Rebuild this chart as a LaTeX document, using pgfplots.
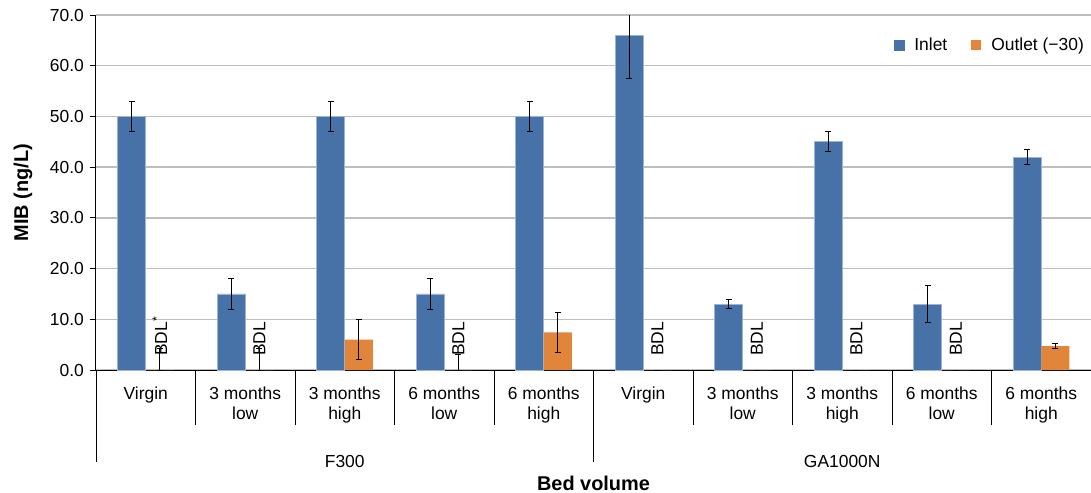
\documentclass[border=0pt]{standalone}
\usepackage{fontspec}
\setmainfont{Liberation Sans}
\usepackage{pgfplots}
\pgfplotsset{compat=1.18}
\definecolor{inlet}{HTML}{4672A8}
\definecolor{inletedge}{HTML}{9DB4D6}
\definecolor{outlet}{HTML}{E0853A}
\definecolor{gridc}{HTML}{BEBEBE}
\newcommand\lf{\fontsize{17.5}{19.5}\selectfont}
\newcommand\blf{\fontsize{20}{24}\selectfont\bfseries}
\tikzset{bdl/.style={rotate=90, anchor=west, inner sep=0pt, font=\lf}}
\begin{document}
\lf
\begin{tikzpicture}
\useasboundingbox (-96bp,-123bp) rectangle (995bp,370bp);
\begin{axis}[
  at={(0,0)}, anchor=south west,
  scale only axis, width=995bp, height=355bp,
  xmin=-0.5, xmax=9.5, ymin=0, ymax=70,
  ybar=0pt, bar width=28bp,
  axis lines=left,
  axis line style={-, black, line width=1bp},
  ytick={0,10,...,70},
  yticklabel={\pgfmathprintnumber[fixed,fixed zerofill,precision=1]{\tick}},
  /pgf/number format/assume math mode=true,
  ymajorgrids, grid style={gridc, line width=1.3bp},
  xtick={0,...,9},
  xticklabels={Virgin,{3 months\\low},{3 months\\high},{6 months\\low},{6 months\\high},Virgin,{3 months\\low},{3 months\\high},{6 months\\low},{6 months\\high}},
  xticklabel style={align=center, anchor=north, inner sep=0pt, yshift=-11bp, font=\lf},
  yticklabel style={anchor=east, inner sep=0pt, xshift=-6bp, font=\lf},
  x tick style={draw=none},
  y tick style={black, line width=1bp},
  tick align=outside, major tick length=6bp,
  legend style={at={(axis description cs:0.995,0.9155)}, anchor=east, draw=none, fill=none,
    legend columns=2, inner sep=0pt, font=\lf, cells={anchor=west},
    /tikz/every even column/.append style={column sep=22bp}},
  error bars/y dir=both, error bars/y explicit,
  error bars/error bar style={black, line width=0.9bp},
  error bars/error mark options={black, rotate=90, mark size=3bp, line width=0.9bp},
]
\addplot[fill=inlet, draw=inletedge, line width=0.6bp,
  legend image code/.code={\fill[inlet] (0bp,-5bp) rectangle (10bp,5bp); \path (18bp,0bp);}]
 coordinates {
(0,50) +- (0,3)
(1,15) +- (0,3)
(2,50) +- (0,3)
(3,15) +- (0,3)
(4,50) +- (0,3)
(5,66) +- (0,8.6)
(6,13) +- (0,0.9)
(7,45) +- (0,2)
(8,13) +- (0,3.6)
(9,42) +- (0,1.5)
};
\addplot[fill=outlet, draw=none,
  legend image code/.code={\fill[outlet] (0bp,-5bp) rectangle (10bp,5bp); \path (18bp,0bp);}]
 coordinates {
(0,0) += (0,4.2) -= (0,0)
(1,0) += (0,4.2) -= (0,0)
(2,6) +- (0,4)
(3,0) += (0,3) -= (0,0)
(4,7.4) +- (0,4)
(5,0) +- (0,0)
(6,0) +- (0,0)
(7,0) +- (0,0)
(8,0) +- (0,0)
(9,4.7) +- (0,0.5)
};
\legend{Inlet, Outlet (−30)}
\node[bdl] at ([xshift=14bp,yshift=14bp]axis cs:0,0) {BDL\textsuperscript{*}};
\node[bdl] at ([xshift=14bp,yshift=14bp]axis cs:1,0) {BDL};
\node[bdl] at ([xshift=14bp,yshift=14bp]axis cs:3,0) {BDL};
\node[bdl] at ([xshift=14bp,yshift=14bp]axis cs:5,0) {BDL};
\node[bdl] at ([xshift=14bp,yshift=14bp]axis cs:6,0) {BDL};
\node[bdl] at ([xshift=14bp,yshift=14bp]axis cs:7,0) {BDL};
\node[bdl] at ([xshift=14bp,yshift=14bp]axis cs:8,0) {BDL};
\end{axis}
\foreach \j in {1,2,3,4,6,7,8,9}{
  \draw[black, line width=1bp] (99.5bp*\j,0) -- (99.5bp*\j,-55bp);
}
\draw[black, line width=1bp] (0,0) -- (0,-92bp);
\draw[black, line width=1bp] (497.5bp,0) -- (497.5bp,-92bp);
\node[font=\lf] at (248.75bp,-91bp) {F300};
\node[font=\lf] at (746.25bp,-91bp) {GA1000N};
\node[font=\blf, anchor=base, inner sep=0pt] at (497.5bp,-120bp) {Bed volume};
\node[font=\blf, rotate=90] at (-73bp,177.5bp) {MIB (ng/L)};
\end{tikzpicture}
\end{document}
